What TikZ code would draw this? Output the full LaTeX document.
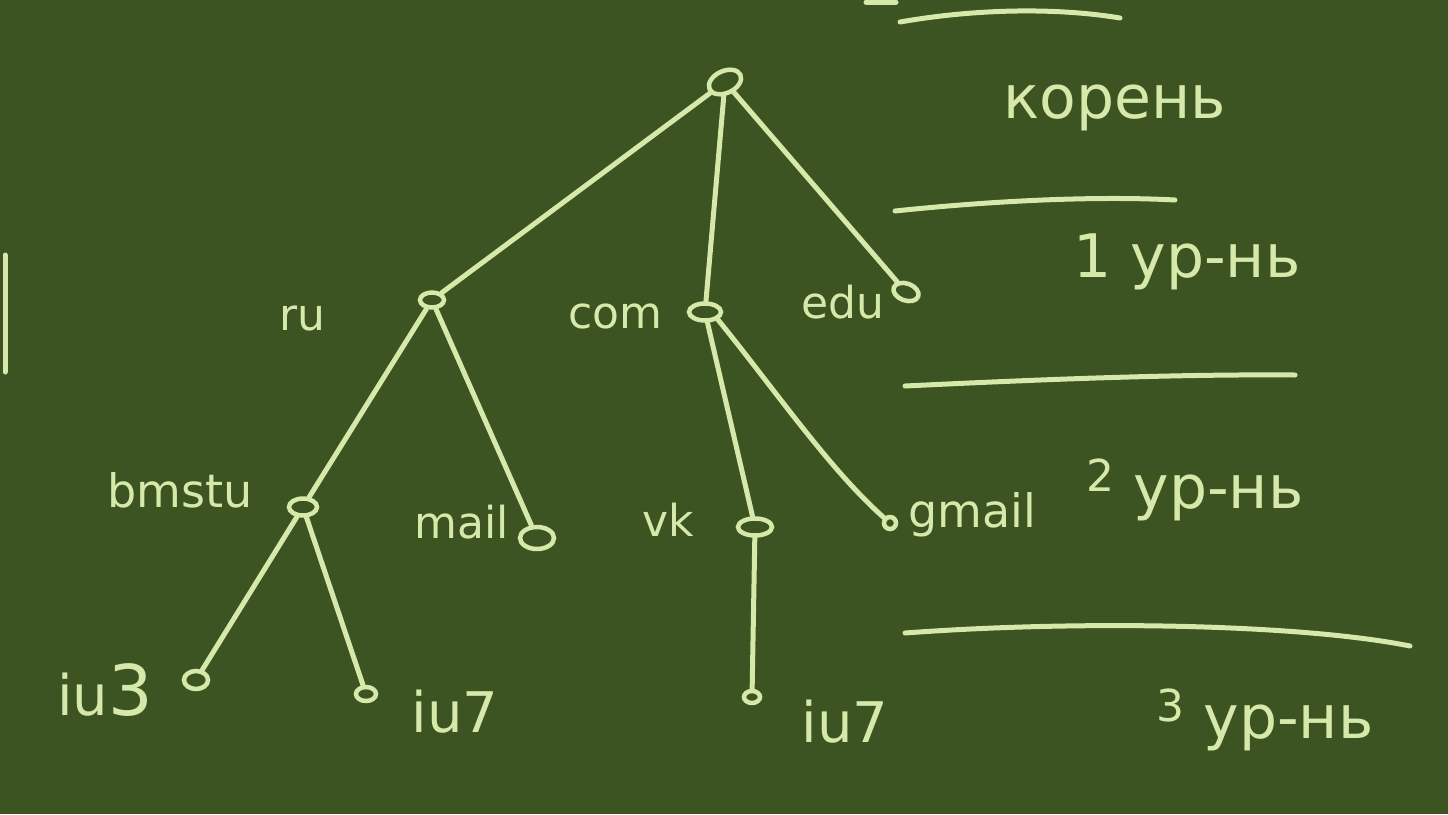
\documentclass[tikz,border=0pt]{standalone}
\usepackage{fontspec}
\setmainfont{DejaVu Sans}
\usetikzlibrary{shapes.geometric}
\definecolor{board}{HTML}{3C5421}
\definecolor{chalk}{HTML}{D6E8AA}
\tikzset{
  chalkline/.style={draw=chalk, line width=5pt, line cap=round},
  vert/.style={ellipse, draw=chalk, line width=4.5pt, inner sep=0pt, minimum width=#1, minimum height=14pt},
  lbl/.style={text=chalk, font=\fontsize{44}{46}\selectfont, inner sep=0pt},
  big/.style={text=chalk, font=\fontsize{56}{58}\selectfont, inner sep=0pt},
  lvl/.style={text=chalk, font=\fontsize{60}{62}\selectfont, inner sep=0pt},
}
\begin{document}
\begin{tikzpicture}[x=1pt, y=-1pt]
\fill[board] (0,0) rectangle (1448,814);
\useasboundingbox (0,0) rectangle (1448,814);

% vertices
\node[vert=34pt, minimum height=22pt, rotate=25] (root) at (725,82) {};
\node[vert=24pt, minimum height=15pt] (ru) at (432,300) {};
\node[vert=32pt, minimum height=17pt] (com) at (705,312) {};
\node[vert=26pt, minimum height=17pt, rotate=-20] (edu) at (906,292) {};
\node[vert=28pt, minimum height=17pt] (bmstu) at (303,507) {};
\node[vert=34pt, minimum height=22pt] (mail) at (537,538) {};
\node[vert=34pt, minimum height=17pt] (vk) at (755,527) {};
\node[vert=12pt, minimum height=12pt] (gmail) at (890,523) {};
\node[vert=24pt, minimum height=18pt] (iu3) at (196,680) {};
\node[vert=20pt, minimum height=14pt] (iu7a) at (366,694) {};
\node[vert=16pt, minimum height=12pt] (iu7b) at (752,697) {};

% edges
\draw[chalkline] (root) -- (ru);
\draw[chalkline] (root) -- (com);
\draw[chalkline] (root) -- (edu);
\draw[chalkline] (ru) -- (bmstu);
\draw[chalkline] (ru) -- (mail);
\draw[chalkline] (com) -- (vk);
\draw[chalkline] (com.south east) .. controls (775,390) and (830,470) .. (gmail);
\draw[chalkline] (bmstu) -- (iu3);
\draw[chalkline] (bmstu) -- (iu7a);
\draw[chalkline] (vk) -- (iu7b);

% labels
\node[lbl] (tru) at (302,318) {ru};
\node[lbl] (tcom) at (615,316) {com};
\node[lbl] (tedu) at (843,302) {edu};
\node[lbl, font=\fontsize{46}{48}\selectfont] (tbmstu) at (180,490) {bmstu};
\node[lbl] (tmail) at (462,522) {mail};
\node[lbl] (tvk) at (668,520) {vk};
\node[lbl, font=\fontsize{46}{48}\selectfont] (tgmail) at (972,515) {gmail};
\node[big] (tiu3) at (105,690) {iu\fontsize{70}{72}\selectfont 3};
\node[big] (tiu7a) at (455,712) {iu7};
\node[big] (tiu7b) at (845,722) {iu7};

% level separators
\coordinate (s1a) at (900,22); \coordinate (s1b) at (1120,18);
\coordinate (s2a) at (895,211); \coordinate (s2b) at (1175,200);
\coordinate (s3a) at (905,386); \coordinate (s3b) at (1295,375);
\coordinate (s4a) at (905,633); \coordinate (s4b) at (1410,646);
\draw[chalkline] (s1a) .. controls (980,8) and (1060,8) .. (s1b);
\draw[chalkline] (s2a) .. controls (1000,200) and (1100,196) .. (s2b);
\draw[chalkline] (s3a) .. controls (1030,380) and (1170,374) .. (s3b);
\draw[chalkline] (s4a) .. controls (1080,620) and (1300,624) .. (s4b);
\draw[chalkline] (866,2) -- (896,2);
\draw[chalkline] (5,255) -- (5,372);

% level labels
\node[lvl] (root lbl) at (1115,108) {корень};
\node[lvl] (l1) at (1187,262) {1 ур-нь};
\node[lvl] (l2) at (1195,490) {\raisebox{0.5ex}{\fontsize{44}{46}\selectfont 2} ур-нь};
\node[lvl] (l3) at (1265,720) {\raisebox{0.5ex}{\fontsize{44}{46}\selectfont 3} ур-нь};
\end{tikzpicture}
\end{document}
